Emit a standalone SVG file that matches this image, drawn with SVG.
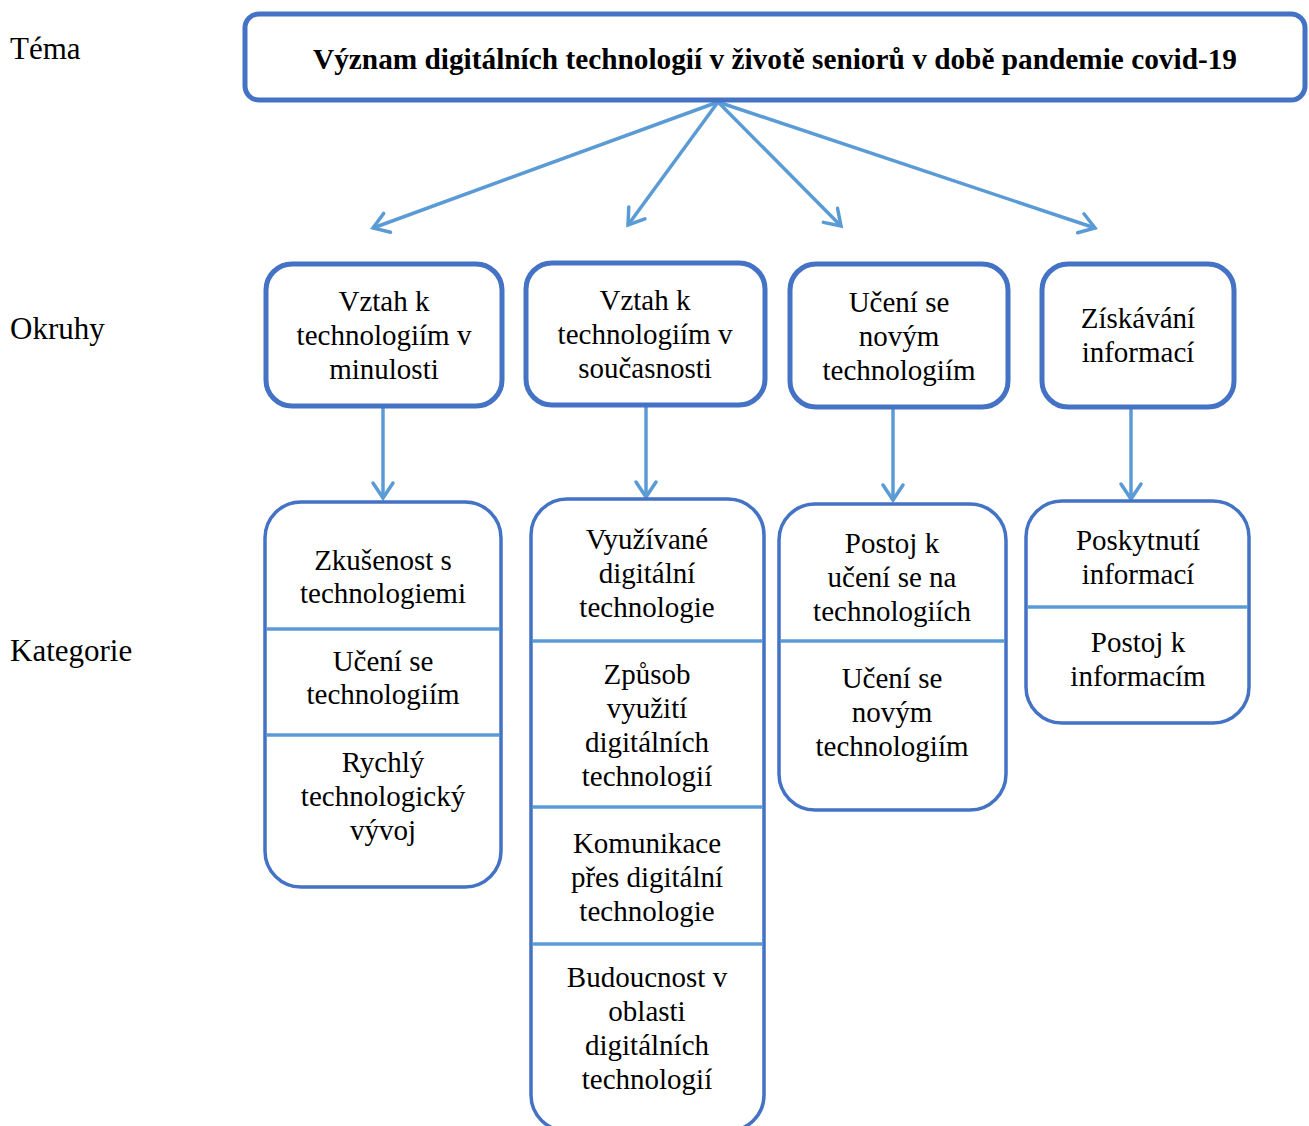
<svg xmlns="http://www.w3.org/2000/svg" width="1309" height="1126" viewBox="0 0 1309 1126">
<defs>
<marker id="ah" markerUnits="userSpaceOnUse" markerWidth="40" markerHeight="40" viewBox="-20 -20 40 40" refX="0" refY="0" orient="auto">
<path d="M-15,-10 L0,0 L-15,10" fill="none" stroke="#5B9BD5" stroke-width="3.5" stroke-linecap="round" stroke-linejoin="miter"/>
</marker>
</defs>
<style>
.lab{font-family:"Liberation Serif","Times New Roman",serif;font-size:31px;fill:#000;}
.t{font-family:"Liberation Serif","Times New Roman",serif;font-size:29px;text-anchor:middle;fill:#000;}
.title{font-family:"Liberation Serif","Times New Roman",serif;font-size:30px;font-weight:bold;text-anchor:middle;fill:#000;}
.main{fill:#fff;stroke:#4472C4;stroke-width:5;}
.ok{fill:#fff;stroke:#4472C4;stroke-width:5;}
.cat{fill:#fff;stroke:#4472C4;stroke-width:3.5;}
.div{stroke:#5B9BD5;stroke-width:3.5;}
.con{stroke:#5B9BD5;stroke-width:3.5;fill:none;marker-end:url(#ah);}
</style>
<rect width="1309" height="1126" fill="#fff"/>
<g id="levels" font-family="Liberation Serif, serif">
<text class="lab" x="10" y="59">Téma</text>
<text class="lab" x="10" y="339">Okruhy</text>
<text class="lab" x="10" y="661">Kategorie</text>
</g>
<g id="connectors">
<line class="con" x1="718" y1="102" x2="373" y2="228"/>
<line class="con" x1="718" y1="102" x2="628" y2="225"/>
<line class="con" x1="718" y1="102" x2="841" y2="226"/>
<line class="con" x1="718" y1="102" x2="1095" y2="228"/>
<line class="con" x1="383" y1="407" x2="383" y2="498"/>
<line class="con" x1="646" y1="406" x2="646" y2="497"/>
<line class="con" x1="893" y1="408" x2="893" y2="500"/>
<line class="con" x1="1131" y1="408" x2="1131" y2="499"/>
</g>
<g id="theme" font-family="Liberation Serif, serif">
<rect class="main" x="245" y="14" width="1060" height="86" rx="14"/>
<text class="title" x="775" y="69" textLength="924" lengthAdjust="spacingAndGlyphs">Význam digitálních technologií v životě seniorů v době pandemie covid-19</text>
</g>
<g id="okruh1" font-family="Liberation Serif, serif">
<rect class="ok" x="266" y="264" width="236" height="142" rx="26"/>
<text class="t" x="384" y="311">Vztah k</text>
<text class="t" x="384" y="345">technologiím v</text>
<text class="t" x="384" y="379">minulosti</text>
</g>
<g id="okruh2" font-family="Liberation Serif, serif">
<rect class="ok" x="526" y="263" width="239" height="142" rx="26"/>
<text class="t" x="645" y="310">Vztah k</text>
<text class="t" x="645" y="344">technologiím v</text>
<text class="t" x="645" y="378">současnosti</text>
</g>
<g id="okruh3" font-family="Liberation Serif, serif">
<rect class="ok" x="790" y="264" width="218" height="143" rx="26"/>
<text class="t" x="899" y="312">Učení se</text>
<text class="t" x="899" y="346">novým</text>
<text class="t" x="899" y="380">technologiím</text>
</g>
<g id="okruh4" font-family="Liberation Serif, serif">
<rect class="ok" x="1042" y="264" width="192" height="143" rx="26"/>
<text class="t" x="1138" y="328">Získávání</text>
<text class="t" x="1138" y="362">informací</text>
</g>
<g id="kategorie1" font-family="Liberation Serif, serif">
<rect class="cat" x="265" y="502" width="236" height="385" rx="36"/>
<line class="div" x1="266" y1="629" x2="500" y2="629"/>
<line class="div" x1="266" y1="735" x2="500" y2="735"/>
<text class="t" x="383" y="570">Zkušenost s</text>
<text class="t" x="383" y="603">technologiemi</text>
<text class="t" x="383" y="671">Učení se</text>
<text class="t" x="383" y="704">technologiím</text>
<text class="t" x="383" y="772">Rychlý</text>
<text class="t" x="383" y="806">technologický</text>
<text class="t" x="383" y="840">vývoj</text>
</g>
<g id="kategorie2" font-family="Liberation Serif, serif">
<rect class="cat" x="531" y="499" width="233" height="632" rx="36"/>
<line class="div" x1="532" y1="641" x2="763" y2="641"/>
<line class="div" x1="532" y1="807" x2="763" y2="807"/>
<line class="div" x1="532" y1="944" x2="763" y2="944"/>
<text class="t" x="647" y="549">Využívané</text>
<text class="t" x="647" y="583">digitální</text>
<text class="t" x="647" y="617">technologie</text>
<text class="t" x="647" y="684">Způsob</text>
<text class="t" x="647" y="718">využití</text>
<text class="t" x="647" y="752">digitálních</text>
<text class="t" x="647" y="786">technologií</text>
<text class="t" x="647" y="853">Komunikace</text>
<text class="t" x="647" y="887">přes digitální</text>
<text class="t" x="647" y="921">technologie</text>
<text class="t" x="647" y="987">Budoucnost v</text>
<text class="t" x="647" y="1021">oblasti</text>
<text class="t" x="647" y="1055">digitálních</text>
<text class="t" x="647" y="1089">technologií</text>
</g>
<g id="kategorie3" font-family="Liberation Serif, serif">
<rect class="cat" x="779" y="504" width="227" height="306" rx="36"/>
<line class="div" x1="780" y1="641" x2="1005" y2="641"/>
<text class="t" x="892" y="553">Postoj k</text>
<text class="t" x="892" y="587">učení se na</text>
<text class="t" x="892" y="621">technologiích</text>
<text class="t" x="892" y="688">Učení se</text>
<text class="t" x="892" y="722">novým</text>
<text class="t" x="892" y="756">technologiím</text>
</g>
<g id="kategorie4" font-family="Liberation Serif, serif">
<rect class="cat" x="1026" y="501" width="223" height="222" rx="36"/>
<line class="div" x1="1027" y1="607" x2="1248" y2="607"/>
<text class="t" x="1138" y="550">Poskytnutí</text>
<text class="t" x="1138" y="584">informací</text>
<text class="t" x="1138" y="652">Postoj k</text>
<text class="t" x="1138" y="686">informacím</text>
</g>
</svg>
